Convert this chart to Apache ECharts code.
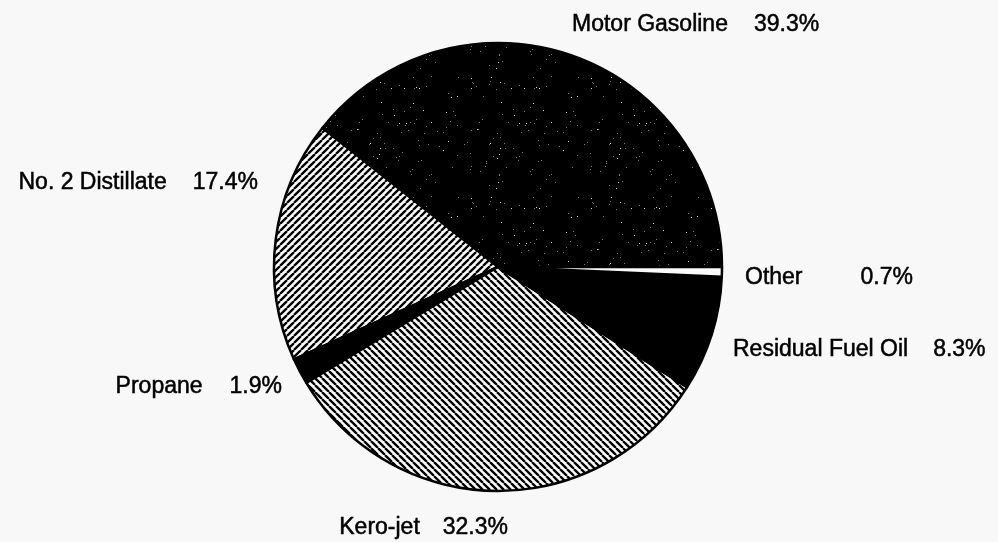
<!DOCTYPE html>
<html>
<head>
<meta charset="utf-8">
<script src="https://cdn.jsdelivr.net/npm/echarts@6/dist/echarts.min.js"></script>
<style>
    html, body { margin: 0; padding: 0; background: #f8f8f8; }
    #pie-chart { width: 998px; height: 542px; }
</style>
</head>
<body>
<div id="pie-chart"></div>
<script>
// product shares, percent
const products = ['Motor Gasoline', 'No. 2 Distillate', 'Propane', 'Kero-jet', 'Residual Fuel Oil', 'Other'];
const shares = [39.3, 17.4, 1.9, 32.3, 8.3, 0.7];

// label placement (anchor x, middle y, align) and gap before the percent
const labelPos = [
    [572, 25, 'left'],
    [258, 183, 'right'],
    [282, 387, 'right'],
    [508, 528, 'right'],
    [733, 350, 'left'],
    [745, 278, 'left']
];
const labelGap = [26, 26, 27, 23, 25, 58];

const FONT = 'Liberation Sans, Arial, sans-serif';

function hatch(size, dir) {
    const c = document.createElement('canvas');
    c.width = size;
    c.height = size;
    const ctx = c.getContext('2d');
    ctx.fillStyle = '#fbfbfb';
    ctx.fillRect(0, 0, size, size);
    ctx.strokeStyle = '#000';
    ctx.lineWidth = 2.3;
    ctx.beginPath();
    for (let k = -1; k <= 1; k++) {
        if (dir > 0) {
            ctx.moveTo(k * size, size);
            ctx.lineTo(k * size + size, 0);
        } else {
            ctx.moveTo(k * size, 0);
            ctx.lineTo(k * size + size, size);
        }
    }
    ctx.stroke();
    return c;
}

// black fill with a fixed scatter of grey grain
function speckle() {
    const n = 120;
    const c = document.createElement('canvas');
    c.width = n;
    c.height = n;
    const ctx = c.getContext('2d');
    ctx.fillStyle = '#000';
    ctx.fillRect(0, 0, n, n);
    const fract = v => v - Math.floor(v);
    for (let i = 1; i <= 110; i++) {
        const x = Math.floor(fract(Math.sin(i * 12.9898) * 43758.5453) * n);
        const y = Math.floor(fract(Math.sin(i * 78.233) * 24634.6345) * n);
        ctx.fillStyle = i % 4 === 0 ? '#d8d8d8' : '#777';
        ctx.fillRect(x, y, 1, 1);
    }
    return c;
}

const fills = [
    {image: speckle(), repeat: 'repeat'},
    {image: hatch(7, 1), repeat: 'repeat'},
    '#000',
    {image: hatch(7, -1), repeat: 'repeat'},
    '#000',
    '#fbfbfb'
];

const chartDom = document.getElementById('pie-chart');
const myChart = echarts.init(chartDom);

const option = {
    backgroundColor: '#f8f8f8',
    animation: false,
    series: [
        {
            name: 'Share',
            type: 'pie',
            center: [498, 267],
            radius: 224,
            startAngle: 0,
            clockwise: false,
            avoidLabelOverlap: false,
            silent: true,
            data: products.map((name, i) => ({
                name: name,
                value: shares[i],
                itemStyle: {color: fills[i]},
                label: {
                    rich: {
                        p: {
                            fontFamily: FONT,
                            fontSize: 23,
                            color: '#000',
                            textBorderColor: '#000',
                            textBorderWidth: 0.5,
                            padding: [0, 0, 0, labelGap[i]]
                        }
                    }
                }
            })),
            itemStyle: {
                borderColor: '#000',
                borderWidth: 2.5
            },
            label: {
                show: true,
                position: 'outside',
                fontFamily: FONT,
                fontSize: 23,
                color: '#000',
                textBorderColor: '#000',
                textBorderWidth: 0.5,
                formatter: p => p.name + '{p|' + shares[p.dataIndex].toFixed(1) + '%}'
            },
            labelLine: {show: false},
            labelLayout: function (params) {
                const pos = labelPos[params.dataIndex];
                return {
                    x: pos[0],
                    y: pos[1],
                    align: pos[2],
                    verticalAlign: 'middle',
                    hideOverlap: false
                };
            }
        }
    ]
};
myChart.setOption(option);

window.addEventListener('resize', function () {
    myChart.resize();
});
</script>
</body>
</html>
